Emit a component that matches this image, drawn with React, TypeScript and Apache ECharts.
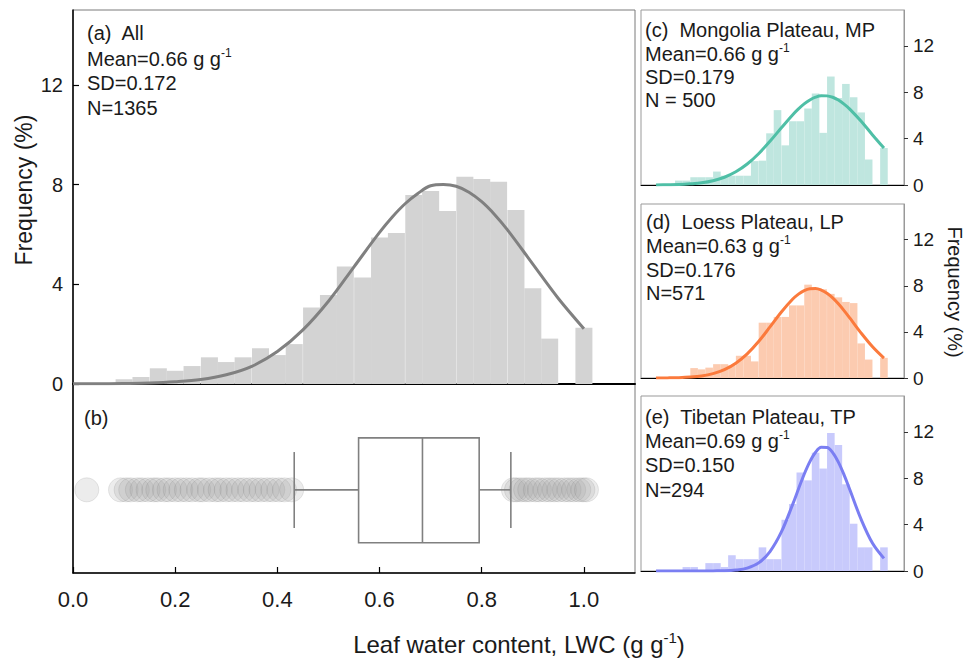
import React, { useEffect, useRef } from 'react';
import * as echarts from 'echarts';

// ---------- data ----------
const binCenters = [
  0.100, 0.133, 0.167, 0.200, 0.233, 0.267, 0.300, 0.333, 0.367, 0.400,
  0.433, 0.467, 0.500, 0.533, 0.567, 0.600, 0.633, 0.667, 0.700, 0.733,
  0.767, 0.800, 0.833, 0.867, 0.900, 0.933, 0.967, 1.000,
];
const BIN_WIDTH = 0.0333;

// Frequency (%) per bin
const freqAll = [0.19, 0.28, 0.63, 0.53, 0.72, 1.07, 0.88, 1.07, 1.43, 1.16, 1.6, 3.07, 3.57, 4.71, 4.27, 5.88, 6.06, 7.58, 7.74, 6.94, 8.31, 8.22, 8.11, 6.98, 3.84, 1.82, 0, 2.26];
const freqMP = [0.38, 0.38, 0.67, 0.67, 0.67, 1.16, 0.8, 0.8, 0.8, 0.8, 2.06, 2.1, 4.46, 6.46, 3.42, 5.5, 5.5, 6.6, 7.9, 4.5, 9.36, 7.5, 8.72, 7.57, 6.26, 2.2, 0, 3.19];
const freqLP = [0, 0, 0.86, 0.75, 0.9, 1.2, 1.2, 1.1, 1.93, 1.93, 1.44, 4.8, 4.8, 5.3, 5.3, 6.3, 6.3, 8.1, 7.7, 7.7, 7.3, 7.0, 6.6, 6.5, 3.0, 1.6, 0, 1.75];
const freqTP = [0, 0.34, 0.34, 0, 0.68, 0.68, 0.34, 1.36, 1.02, 1.02, 1.02, 2.04, 1.02, 1.02, 4.42, 5.78, 8.5, 7.82, 10.2, 8.84, 11.9, 10.88, 7.48, 4.08, 2.04, 2.04, 0, 2.04];

// fitted curves
const curveX = [0, 0.05, 0.10, 0.15, 0.20, 0.25, 0.30, 0.35, 0.40, 0.45, 0.50, 0.55, 0.60, 0.625, 0.65, 0.675, 0.70, 0.725, 0.75, 0.775, 0.80, 0.825, 0.85, 0.90, 0.95, 1.00];
const curveAll = [0.01, 0.01, 0.02, 0.04, 0.09, 0.18, 0.37, 0.71, 1.3, 2.17, 3.32, 4.7, 6.08, 6.7, 7.23, 7.64, 7.95, 8.0, 7.93, 7.69, 7.31, 6.8, 6.19, 4.81, 3.43, 2.22];
const curveMP = [0.01, 0.02, 0.04, 0.1, 0.19, 0.37, 0.67, 1.14, 1.81, 2.7, 3.77, 4.94, 6.07, 6.57, 7.0, 7.34, 7.58, 7.7, 7.69, 7.57, 7.33, 6.98, 6.55, 5.5, 4.32, 3.19];
const curveLP = [0, 0.01, 0.03, 0.08, 0.18, 0.38, 0.72, 1.28, 2.09, 3.16, 4.43, 5.73, 6.85, 7.28, 7.59, 7.75, 7.77, 7.63, 7.35, 6.95, 6.44, 5.85, 5.21, 3.9, 2.71, 1.73];
const curveTP = [0, 0, 0, 0, 0, 0.01, 0.02, 0.08, 0.25, 0.7, 1.68, 3.37, 5.77, 7.08, 8.35, 9.44, 10.25, 10.67, 10.66, 10.22, 9.4, 8.3, 7.03, 4.45, 2.39, 1.09];

// box plot: lower whisker, Q1, median, Q3, upper whisker
const boxStats = [0.433, 0.559, 0.684, 0.795, 0.857];
const outliers = [
  0.027, 0.093, 0.104, 0.113, 0.126, 0.135, 0.147, 0.158, 0.166, 0.179, 0.188, 0.2, 0.211, 0.222,
  0.233, 0.246, 0.254, 0.267, 0.279, 0.288, 0.3, 0.311, 0.323, 0.334, 0.346, 0.357, 0.368, 0.38,
  0.391, 0.403, 0.414, 0.428,
  0.862, 0.868, 0.877, 0.886, 0.894, 0.905, 0.913, 0.924, 0.933, 0.942, 0.951, 0.962, 0.971,
  0.98, 0.99, 0.998, 1.005,
];

const panelTitles = ['(a)  All', '(c)  Mongolia Plateau, MP', '(d)  Loess Plateau, LP', '(e)  Tibetan Plateau, TP'];
const panelMeans = ['0.66', '0.66', '0.63', '0.69'];
const panelSD = ['SD=0.172', 'SD=0.179', 'SD=0.176', 'SD=0.150'];
const panelN = ['N=1365', 'N = 500', 'N=571', 'N=294'];

const FONT = '"Liberation Sans", Arial, Helvetica, sans-serif';
const TXT = '#1a1a1a';

function histSeries(data: number[], color: string, axisIdx: number) {
  return {
    type: 'custom',
    xAxisIndex: axisIdx,
    yAxisIndex: axisIdx,
    clip: true,
    z: 1,
    encode: { x: 0, y: 1 },
    data: binCenters.map((c, i) => [c, data[i]]),
    renderItem: (params: any, api: any) => {
      const c = api.value(0);
      const v = api.value(1);
      const p0 = api.coord([c - BIN_WIDTH / 2, v]);
      const p1 = api.coord([c + BIN_WIDTH / 2, 0]);
      return {
        type: 'rect',
        shape: { x: p0[0], y: p0[1], width: p1[0] - p0[0], height: p1[1] - p0[1] },
        style: { fill: color },
      };
    },
  };
}

function curveSeries(data: number[], color: string, axisIdx: number) {
  return {
    type: 'line',
    xAxisIndex: axisIdx,
    yAxisIndex: axisIdx,
    smooth: 0.35,
    showSymbol: false,
    z: 3,
    data: curveX.map((x, i) => [x, data[i]]),
    lineStyle: { color, width: 3 },
  };
}

function supText(prefix: string, after: string, x: number, y: number, size: number, align = 'left') {
  return {
    type: 'text',
    x,
    y,
    style: {
      text: `{m|${prefix}}{s|-1}` + (after ? `{m|${after}}` : ''),
      align,
      verticalAlign: 'middle',
      rich: {
        m: { fontSize: size, fontFamily: FONT, fill: TXT, lineHeight: size + 4 },
        s: { fontSize: Math.round(size * 0.62), fontFamily: FONT, fill: TXT, verticalAlign: 'top', lineHeight: size + 4 },
      },
    },
  };
}

function plainText(text: string, x: number, y: number, size: number, extra: any = {}) {
  return {
    type: 'text',
    x,
    y,
    ...extra,
    style: { text, fontSize: size, fontFamily: FONT, fill: TXT, align: extra.align || 'left', verticalAlign: 'middle' },
  };
}

export default function App() {
  const ref = useRef<HTMLDivElement>(null);

  useEffect(() => {
    if (!ref.current) return;
    const chart = echarts.init(ref.current, undefined, { renderer: 'svg' });

    const gridBase = { show: true, borderColor: '#7a7a7a', borderWidth: 1, backgroundColor: 'transparent', containLabel: false };
    const grids = [
      { ...gridBase, left: 73, top: 10, width: 562, height: 374 },
      { ...gridBase, left: 73, top: 384, width: 562, height: 189 },
      { ...gridBase, left: 641, top: 10, width: 263, height: 175, borderColor: '#999' },
      { ...gridBase, left: 641, top: 204, width: 263, height: 174, borderColor: '#999' },
      { ...gridBase, left: 641, top: 396, width: 263, height: 175, borderColor: '#999' },
    ];

    const rightX = (i: number) => ({
      gridIndex: i, type: 'value', min: -0.066, max: 1.088,
      axisLine: { show: true, onZero: false, lineStyle: { color: '#000', width: 1 } },
      axisTick: { show: false }, axisLabel: { show: false }, splitLine: { show: false },
    });
    const rightY = (i: number) => ({
      gridIndex: i, type: 'value', position: 'right', min: 0, max: 15.1, interval: 4,
      axisLine: { show: true, onZero: false, lineStyle: { color: '#999', width: 1 } },
      axisTick: { show: true, inside: false, length: 4, lineStyle: { color: '#333' } },
      axisLabel: { fontSize: 19, color: TXT, fontFamily: FONT, margin: 9, showMaxLabel: false },
      splitLine: { show: false },
    });

    const texts: any[] = [];
    const blocks = [
      { x: 87, ys: [33, 59, 83, 108] },
      { x: 645, ys: [30, 54, 77, 100] },
      { x: 646, ys: [222, 246, 270, 293] },
      { x: 645, ys: [417, 441, 465, 490] },
    ];
    blocks.forEach((b, i) => {
      const size = 20;
      texts.push(plainText(panelTitles[i], b.x, b.ys[0], size));
      texts.push(supText(`Mean=${panelMeans[i]} g g`, '', b.x, b.ys[1], size));
      texts.push(plainText(panelSD[i], b.x, b.ys[2], size));
      texts.push(plainText(panelN[i], b.x, b.ys[3], size));
    });
    texts.push(plainText('(b)', 84, 418, 20));
    texts.push(plainText('Frequency (%)', 24, 190, 23, { rotation: Math.PI / 2, align: 'center' }));
    texts.push(plainText('Frequency (%)', 955, 292, 20, { rotation: -Math.PI / 2, align: 'center' }));
    texts.push(supText('Leaf water content, LWC (g g', ')', 519, 644, 24, 'center'));

    const option: any = {
      animation: false,
      backgroundColor: '#fff',
      grid: grids,
      xAxis: [
        {
          gridIndex: 0, type: 'value', min: 0, max: 1.1,
          axisLine: { show: true, onZero: false, lineStyle: { color: '#000', width: 2 } },
          axisTick: { show: false }, axisLabel: { show: false }, splitLine: { show: false },
        },
        {
          gridIndex: 1, type: 'value', min: 0, max: 1.1, interval: 0.2,
          axisLine: { show: true, onZero: false, lineStyle: { color: '#000', width: 1.5 } },
          axisTick: { show: true, inside: true, length: 6, lineStyle: { color: '#000', width: 1.2 } },
          axisLabel: {
            fontSize: 22, color: TXT, fontFamily: FONT, margin: 15, showMaxLabel: false,
            formatter: (v: number) => v.toFixed(1),
          },
          splitLine: { show: false },
        },
        rightX(2), rightX(3), rightX(4),
      ],
      yAxis: [
        {
          gridIndex: 0, type: 'value', min: 0, max: 15, interval: 4,
          axisLine: { show: true, onZero: false, lineStyle: { color: '#000', width: 1.5 } },
          axisTick: { show: true, inside: true, length: 6, lineStyle: { color: '#000', width: 1.2 } },
          axisLabel: { fontSize: 20, color: TXT, fontFamily: FONT, margin: 10, showMaxLabel: false },
          splitLine: { show: false },
        },
        {
          gridIndex: 1, type: 'value', min: 0, max: 1,
          axisLine: { show: true, onZero: false, lineStyle: { color: '#000', width: 1.5 } },
          axisTick: { show: false }, axisLabel: { show: false }, splitLine: { show: false },
        },
        rightY(2), rightY(3), rightY(4),
      ],
      series: [
        histSeries(freqAll, '#d3d3d3', 0),
        curveSeries(curveAll, '#808080', 0),
        {
          type: 'scatter',
          xAxisIndex: 1, yAxisIndex: 1, z: 1,
          symbolSize: 24,
          data: outliers.map((v) => [v, 0.44]),
          itemStyle: { color: 'rgba(160,160,160,0.25)', borderColor: 'rgba(110,110,110,0.25)', borderWidth: 0.8 },
        },
        {
          type: 'custom',
          xAxisIndex: 1, yAxisIndex: 1, z: 4,
          dimensions: ['lo', 'q1', 'md', 'q3', 'hi'],
          encode: { x: [0, 1, 2, 3, 4] },
          data: [boxStats],
          renderItem: (params: any, api: any) => {
            const X = (v: number) => api.coord([v, 0])[0];
            const Y = (v: number) => api.coord([0, v])[1];
            const lo = X(api.value(0)), q1 = X(api.value(1)), md = X(api.value(2)), q3 = X(api.value(3)), hi = X(api.value(4));
            const yc = Y(0.44), yt = Y(0.715), yb = Y(0.16), ct = Y(0.64), cb = Y(0.238);
            const st = { stroke: '#808080', lineWidth: 1.6, fill: 'none' };
            return {
              type: 'group',
              children: [
                { type: 'rect', shape: { x: q1, y: yt, width: q3 - q1, height: yb - yt }, style: { ...st, fill: 'rgba(255,255,255,0)' } },
                { type: 'line', shape: { x1: md, y1: yt, x2: md, y2: yb }, style: st },
                { type: 'line', shape: { x1: lo, y1: yc, x2: q1, y2: yc }, style: st },
                { type: 'line', shape: { x1: q3, y1: yc, x2: hi, y2: yc }, style: st },
                { type: 'line', shape: { x1: lo, y1: ct, x2: lo, y2: cb }, style: st },
                { type: 'line', shape: { x1: hi, y1: ct, x2: hi, y2: cb }, style: st },
              ],
            };
          },
        },
        histSeries(freqMP, '#bfe6df', 2),
        curveSeries(curveMP, '#4fbfa6', 2),
        histSeries(freqLP, '#fccbb0', 3),
        curveSeries(curveLP, '#fb7a3c', 3),
        histSeries(freqTP, '#c8cafc', 4),
        curveSeries(curveTP, '#7a7ef2', 4),
      ],
      graphic: texts,
    };

    chart.setOption(option);
    return () => chart.dispose();
  }, []);

  return (
    <div
      ref={ref}
      style={{ position: 'fixed', left: 0, top: 0, width: 972, height: 658, background: '#fff' }}
    />
  );
}
